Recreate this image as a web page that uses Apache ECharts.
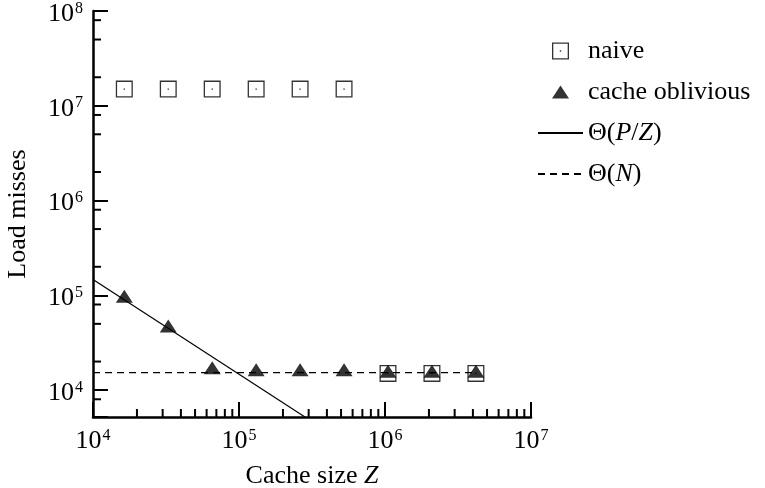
<!DOCTYPE html>
<html><head><meta charset="utf-8">
<script src="https://cdn.jsdelivr.net/npm/echarts@6/dist/echarts.min.js"></script>
<style>html,body{margin:0;padding:0;background:#fff}#c{width:765px;height:488px}</style>
</head><body><div id="c"></div>
<script>
// ---- data ----
const cacheSizes = [16384, 32768, 65536, 131072, 262144, 524288, 1048576, 2097152, 4194304];
const naiveMisses = [1.5e7, 1.5e7, 1.5e7, 1.5e7, 1.5e7, 1.5e7, 1.5e4, 1.5e4, 1.5e4];
const obliviousMisses = [9.8e4, 4.75e4, 1.72e4, 1.64e4, 1.64e4, 1.64e4, 1.58e4, 1.58e4, 1.58e4];
const thetaPZx = [1e4, 3.2e5];
const thetaPZy = [1.47e5, 4.6e3];
const thetaNx = [1e4, 4194304];
const thetaNy = [1.53e4, 1.53e4];
const seriesNames = ['naive', 'cache oblivious', 'Θ(P/Z)', 'Θ(N)'];
const legendRich = {
  'naive': '{r|naive}',
  'cache oblivious': '{r|cache oblivious}',
  'Θ(P/Z)': '{r|Θ(}{i|P}{r|/}{i|Z}{r|)}',
  'Θ(N)': '{r|Θ(}{i|N}{r|)}'
};
const xRange = [1e4, 1e7];
const yRange = [5200, 1e8];
const xMinorMult = [2, 3, 4, 5, 6, 7, 8, 9];
const yMinorMult = [2, 5, 8];

const FONT = '"Liberation Serif","Times New Roman",serif';
const pair = (xs, ys) => xs.map((x, i) => [x, ys[i]]);

function powLabel(v) {
  const e = Math.log10(v);
  const r = Math.round(e);
  if (Math.abs(e - r) > 1e-6) return '';
  return '{b|10}{s|' + r + '}';
}
const labelRich = {
  b: { fontFamily: FONT, fontSize: 26, lineHeight: 26, color: '#000', verticalAlign: 'bottom' },
  s: { fontFamily: FONT, fontSize: 16, lineHeight: 16, color: '#000', verticalAlign: 'bottom', padding: [0, 0, 10.5, 1] }
};
const textRich = {
  r: { fontFamily: FONT, fontSize: 26, color: '#000' },
  i: { fontFamily: FONT, fontSize: 26, color: '#000', fontStyle: 'italic' }
};

// square with a centre dot (hole via opposite winding)
const squarePath = 'path://M0,0H17V17H0Z M1.3,15.7H15.7V1.3H1.3Z M7.8,7.8H9.2V9.2H7.8Z';
// filled triangle 17x13 inside a 17x17 box (tiny corner dots fix the box)
const trianglePath = 'path://M0,0H0.01V0.01H0Z M0,15L8.5,2L17,15Z M16.99,16.99H17V17H16.99Z';

const chart = echarts.init(document.getElementById('c'), null, { renderer: 'canvas' });
const axisCommon = {
  type: 'log', logBase: 10,
  axisLine: { show: true, onZero: false, lineStyle: { color: '#000', width: 2.5 } },
  axisTick: { show: true, inside: true, length: 15, lineStyle: { color: '#000', width: 2 } },
  minorTick: { show: false },
  splitLine: { show: false },
  axisLabel: { formatter: powLabel, rich: labelRich, color: '#000' },
  nameLocation: 'middle',
  nameTextStyle: { rich: textRich, fontFamily: FONT, fontSize: 26, color: '#000' }
};
chart.setOption({
  animation: false,
  backgroundColor: '#fff',
  grid: { left: 93, right: 234, top: 11, bottom: 71, containLabel: false, outerBoundsMode: 'none' },
  xAxis: Object.assign({}, axisCommon, {
    min: xRange[0], max: xRange[1],
    name: '{r|Cache size }{i|Z}', nameGap: 46,
    axisLabel: Object.assign({}, axisCommon.axisLabel, { margin: 11 })
  }),
  yAxis: Object.assign({}, axisCommon, {
    min: yRange[0], max: yRange[1],
    name: '{r|Load misses}', nameRotate: 90, nameGap: 62,
    axisLabel: Object.assign({}, axisCommon.axisLabel, { margin: 10, padding: [6, 0, 0, 0] })
  }),
  legend: {
    orient: 'vertical', left: 532, top: 33,
    itemWidth: 45, itemHeight: 17, itemGap: 15,
    symbolKeepAspect: true,
    data: seriesNames,
    formatter: n => legendRich[n],
    textStyle: { fontFamily: FONT, fontSize: 26, lineHeight: 26, color: '#000', rich: textRich }
  },
  series: [
    { name: seriesNames[0], type: 'scatter', data: pair(cacheSizes, naiveMisses),
      symbol: squarePath, symbolSize: 17, itemStyle: { color: '#000' }, z: 3 },
    { name: seriesNames[1], type: 'scatter', data: pair(cacheSizes, obliviousMisses),
      symbol: trianglePath, symbolSize: 17, itemStyle: { color: '#000' }, z: 4 },
    { name: seriesNames[2], type: 'line', data: pair(thetaPZx, thetaPZy), symbol: 'none',
      lineStyle: { color: '#000', width: 1.2 }, itemStyle: { color: 'rgba(0,0,0,0)' }, z: 2 },
    { name: seriesNames[3], type: 'line', data: pair(thetaNx, thetaNy), symbol: 'none',
      lineStyle: { color: '#000', width: 1.2, type: [7, 5] }, itemStyle: { color: 'rgba(0,0,0,0)' }, z: 2 }
  ]
});

// minor ticks (positions from the chart's own axes)
const gfx = [];
const x0 = chart.convertToPixel({ xAxisIndex: 0 }, xRange[0]);
const yB = chart.convertToPixel({ yAxisIndex: 0 }, yRange[0]);
for (let e = 4; e < 7; e++) {
  xMinorMult.forEach(m => {
    const v = m * Math.pow(10, e);
    if (v <= xRange[0] || v >= xRange[1]) return;
    const px = chart.convertToPixel({ xAxisIndex: 0 }, v);
    gfx.push({ type: 'line', shape: { x1: px, y1: yB, x2: px, y2: yB - 8 }, style: { stroke: '#000', lineWidth: 2 }, z: 10 });
  });
}
for (let e = 3; e < 8; e++) {
  yMinorMult.forEach(m => {
    const v = m * Math.pow(10, e);
    if (v <= yRange[0] || v >= yRange[1]) return;
    const py = chart.convertToPixel({ yAxisIndex: 0 }, v);
    gfx.push({ type: 'line', shape: { x1: x0, y1: py, x2: x0 + 8, y2: py }, style: { stroke: '#000', lineWidth: 2 }, z: 10 });
  });
}
chart.setOption({ graphic: gfx });
</script></body></html>
